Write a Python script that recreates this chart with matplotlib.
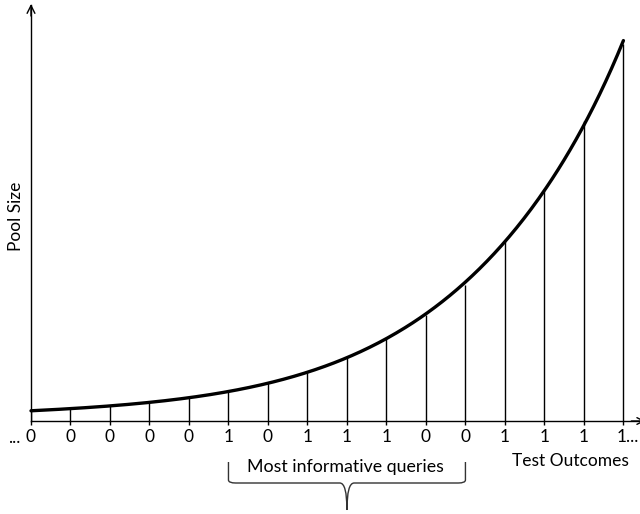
import matplotlib
matplotlib.use("Agg")
import matplotlib.pyplot as plt
import numpy as np
from matplotlib.path import Path
from matplotlib.patches import PathPatch

outcomes = ["0", "0", "0", "0", "0", "1", "0", "1", "1", "1", "0", "0", "1", "1", "1", "1"]
pool_size = [10, 13, 15, 18, 23, 30, 38, 49, 64, 83, 106, 136, 180, 232, 300, 377]
brace_start, brace_end = 5, 11
brace_label = "Most informative queries"
x_label = "Test Outcomes"
y_label = "Pool Size"

plt.rcParams['font.family'] = ['Lato', 'DejaVu Sans']

fig = plt.figure(figsize=(6.4, 5.14), dpi=100)
ax = fig.add_axes([31/640, (514-421)/514, 609/640, 416/514])
x = np.arange(len(pool_size))
ax.set_xlim(0, 15.42)
ax.set_ylim(0, 416)

xs = np.linspace(0, len(pool_size)-1, 400)
coef = np.polyfit(x, np.log(pool_size), 5)
ax.plot(xs, np.exp(np.polyval(coef, xs)), color='black', lw=2.4, solid_capstyle='round', clip_on=False)
ax.vlines(x, 0, pool_size, color='black', lw=1.0)

for s in ['top', 'right']:
    ax.spines[s].set_visible(False)
for s in ['left', 'bottom']:
    ax.spines[s].set_linewidth(1.0)

ax.set_xticks(x)
labels = list(outcomes[:-1]) + [""]
ax.set_xticklabels(labels, fontsize=12.5)
ax.tick_params(axis='x', length=3, width=1.0, pad=3)
ax.set_yticks([])
# last outcome with trailing ellipsis, as in the reference
ax.text(x[-1] - 0.17, -16, outcomes[-1] + "...", fontsize=12.5, ha='left', va='center', clip_on=False)

ax.annotate('', xy=(0, 417), xytext=(0, 405), xycoords='data',
            arrowprops=dict(arrowstyle='->', lw=1.0, color='black', mutation_scale=14,
                            shrinkA=0, shrinkB=0), annotation_clip=False)
ax.annotate('', xy=(15.55, 0), xytext=(15.2, 0), xycoords='data',
            arrowprops=dict(arrowstyle='->', lw=1.0, color='black', mutation_scale=12,
                            shrinkA=0, shrinkB=0), annotation_clip=False)

ax.text(-0.42, -17, "...", fontsize=12.5, ha='center', va='center', clip_on=False)

ax.text(13.65, -40, x_label, fontsize=12.5, ha='center', va='center')
fig.text(16/640, 1 - 216/514, y_label, fontsize=12.5, rotation=90, ha='center', va='center')

b0, b1 = brace_start, brace_end
bm = (b0 + b1) / 2
top, mid, tip = -41, -62, -89
dx = 0.18
verts = [(b0, top), (b0, mid + 3), (b0, mid), (b0 + dx, mid),
         (bm - dx, mid), (bm, mid), (bm, tip),
         (bm, mid), (bm + dx, mid),
         (b1 - dx, mid), (b1, mid), (b1, mid + 3), (b1, top)]
codes = [Path.MOVETO, Path.LINETO, Path.CURVE3, Path.CURVE3,
         Path.LINETO, Path.CURVE3, Path.CURVE3,
         Path.CURVE3, Path.CURVE3,
         Path.LINETO, Path.CURVE3, Path.CURVE3, Path.LINETO]
ax.add_patch(PathPatch(Path(verts, codes), fill=False, lw=1.0, color='#333333', clip_on=False))
ax.text(bm - 0.05, -46, brace_label, fontsize=12.8, ha='center', va='center')

fig.savefig('out.png', dpi=100)
